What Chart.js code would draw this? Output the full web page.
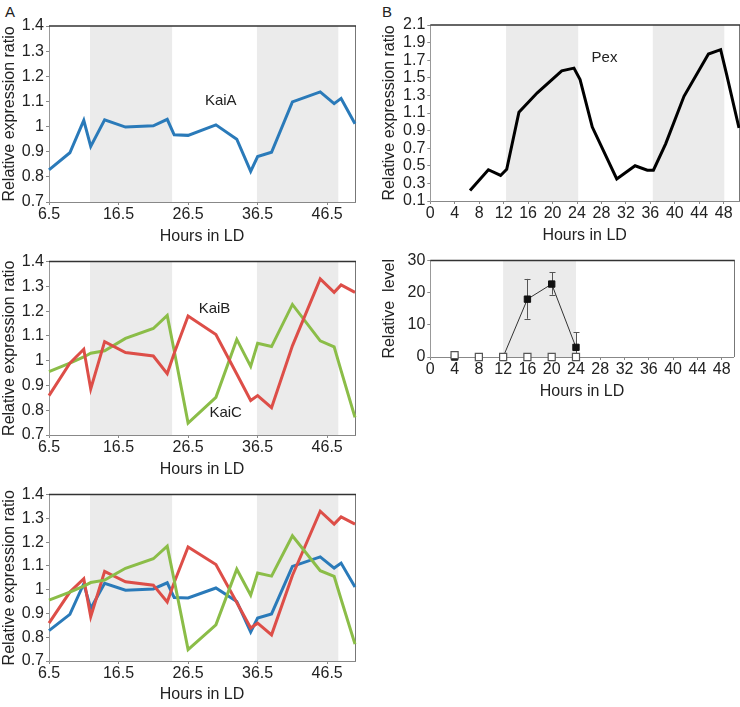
<!DOCTYPE html>
<html>
<head>
<meta charset="utf-8">
<script src="https://cdn.jsdelivr.net/npm/chart.js@4.4.1/dist/chart.umd.min.js"></script>
<style>
  body { margin: 0; background: #fff; width: 740px; height: 707px; position: relative; overflow: hidden;
         font-family: "Liberation Sans", Arial, sans-serif; }
  canvas { position: absolute; }
  .tag { position: absolute; font-size: 15px; color: #222; line-height: 1; }
</style>
</head>
<body>
<div class="tag" style="left:5px;top:4px">A</div>
<div class="tag" style="left:382px;top:4px">B</div>
<canvas id="kaiA" width="365" height="250" style="left:0;top:0"></canvas>
<canvas id="kaiBC" width="365" height="233" style="left:0;top:250px"></canvas>
<canvas id="kaiAll" width="365" height="224" style="left:0;top:483px"></canvas>
<canvas id="pex" width="360" height="249" style="left:380px;top:0"></canvas>
<canvas id="level" width="360" height="156" style="left:380px;top:249px"></canvas>
<script>
// sampling times (hours in LD)
const hours = [6.5, 9.5, 11.5, 12.5, 14.5, 17.5, 21.5, 23.5, 24.5, 26.5,
               30.5, 33.5, 35.5, 36.5, 38.5, 41.5, 45.5, 47.5, 48.5, 50.5];
const kaiA = [0.828, 0.896, 1.025, 0.921, 1.027, 0.998, 1.003, 1.029, 0.967, 0.965,
              1.007, 0.95, 0.822, 0.881, 0.898, 1.098, 1.138, 1.091, 1.112, 1.011];
const kaiB = [0.859, 0.99, 1.046, 0.886, 1.077, 1.033, 1.019, 0.948, 1.03, 1.18,
              1.106, 0.946, 0.839, 0.859, 0.81, 1.06, 1.33, 1.276, 1.306, 1.276];
const kaiC = [0.956, 0.99, 1.015, 1.03, 1.04, 1.09, 1.13, 1.183, 1.04, 0.748,
              0.852, 1.086, 0.977, 1.07, 1.057, 1.227, 1.08, 1.056, 0.96, 0.771];
const pex = [0.22, 0.455, 0.39, 0.46, 1.11, 1.33, 1.58, 1.61, 1.48, 0.94,
             0.35, 0.50, 0.45, 0.45, 0.75, 1.29, 1.77, 1.82, 1.53, 0.93];

// protein level panel
const levelHours = [4, 8, 12, 16, 20, 24];
const levelFilled = [0, null, 0, 18, 22.7, 3];
const levelFilledLow = [null, null, null, 11.9, 19.4, 0];
const levelFilledHigh = [null, null, null, 24.3, 26.3, 7.7];
const levelOpen = [0.6, 0, 0, 0, 0, 0];

// dark periods
const darkPhases = [[12.4, 24.2], [36.4, 48.1]];
const darkPhasesLevel = [[12, 24]];

// tick labels
const xTicksA = [6.5, 16.5, 26.5, 36.5, 46.5];
const xTicksB = [0, 4, 8, 12, 16, 20, 24, 28, 32, 36, 40, 44, 48];
const yTicksKai = [0.7, 0.8, 0.9, 1, 1.1, 1.2, 1.3, 1.4];
const yTicksPex = [0.1, 0.3, 0.5, 0.7, 0.9, 1.1, 1.3, 1.5, 1.7, 1.9, 2.1];
const yTicksLevel = [0, 10, 20, 30];

const BLUE = "#2a7ab9", RED = "#dd4e48", GREEN = "#8bbd48";
const FONT = "'Liberation Sans', Arial, sans-serif";
const TEXT = "#222";

const shadePlugin = {
  id: "shade",
  beforeDraw(chart, args, opts) {
    const { ctx, chartArea: a, scales: { x } } = chart;
    ctx.save();
    ctx.fillStyle = "#ebebeb";
    (opts.ranges || []).forEach(([s, e]) => {
      const x0 = Math.max(a.left, x.getPixelForValue(s));
      const x1 = Math.min(a.right, x.getPixelForValue(e));
      ctx.fillRect(x0, a.top, x1 - x0, a.bottom - a.top);
    });
    ctx.restore();
  }
};

const framePlugin = {
  id: "frame",
  beforeDatasetsDraw(chart) {
    const { ctx, chartArea: a } = chart;
    ctx.save();
    ctx.lineWidth = 1;
    ctx.strokeStyle = "#777";
    ctx.beginPath();
    ctx.moveTo(Math.round(a.right) + 0.5, a.top);
    ctx.lineTo(Math.round(a.right) + 0.5, a.bottom);
    ctx.stroke();
    ctx.lineWidth = 1.5;
    ctx.strokeStyle = "#333";
    ctx.beginPath();
    ctx.moveTo(a.left, a.top);
    ctx.lineTo(a.right + 1, a.top);
    ctx.stroke();
    ctx.restore();
  }
};

const errorBarPlugin = {
  id: "errorBars",
  beforeDatasetsDraw(chart) {
    const { ctx, scales: { x, y } } = chart;
    ctx.save();
    ctx.strokeStyle = "#555";
    ctx.lineWidth = 1;
    chart.data.datasets.forEach((ds) => {
      if (!ds.errLow) return;
      ds.data.forEach((p, i) => {
        if (ds.errLow[i] == null) return;
        const px = Math.round(x.getPixelForValue(p.x)) + 0.5;
        const lo = y.getPixelForValue(ds.errLow[i]);
        const hi = y.getPixelForValue(ds.errHigh[i]);
        ctx.beginPath();
        ctx.moveTo(px, lo); ctx.lineTo(px, hi);
        ctx.moveTo(px - 3, Math.round(hi) + 0.5); ctx.lineTo(px + 3, Math.round(hi) + 0.5);
        ctx.moveTo(px - 3, Math.round(lo) + 0.5); ctx.lineTo(px + 3, Math.round(lo) + 0.5);
        ctx.stroke();
      });
    });
    ctx.restore();
  }
};

const notePlugin = {
  id: "notes",
  afterDatasetsDraw(chart, args, opts) {
    const { ctx, scales: { x, y } } = chart;
    ctx.save();
    ctx.font = "15px " + FONT;
    ctx.fillStyle = TEXT;
    ctx.textAlign = "center";
    ctx.textBaseline = "middle";
    (opts.items || []).forEach((n) => {
      ctx.fillText(n.text, x.getPixelForValue(n.x), y.getPixelForValue(n.y));
    });
    ctx.restore();
  }
};

function pts(xs, ys) {
  return xs.map((v, i) => ({ x: v, y: ys[i] }));
}

function axes(cfg) {
  const tickGrid = { display: true, drawOnChartArea: false, tickLength: 3, color: "#888" };
  return {
    x: {
      type: "linear",
      min: cfg.xMin, max: cfg.xMax,
      afterBuildTicks: (s) => { s.ticks = cfg.xTicks.map((v) => ({ value: v })); },
      afterFit: (s) => { s.height = cfg.xHeight; },
      grid: tickGrid,
      border: { display: true, color: "#888" },
      ticks: { color: TEXT, font: { family: FONT, size: 16 }, padding: 0, maxRotation: 0, autoSkip: false,
               callback: (v) => String(v) },
      title: { display: true, text: "Hours in LD", color: TEXT, font: { family: FONT, size: 16 },
               padding: { top: 0, bottom: cfg.titleBottom } }
    },
    y: {
      min: cfg.yTicks[0], max: cfg.yTicks[cfg.yTicks.length - 1],
      afterBuildTicks: (s) => { s.ticks = cfg.yTicks.map((v) => ({ value: v })); },
      afterFit: (s) => { s.width = cfg.yWidth; },
      grid: tickGrid,
      border: { display: true, color: "#999" },
      ticks: { color: TEXT, font: { family: FONT, size: 16 }, padding: 2, autoSkip: false,
               callback: (v) => String(+v.toFixed(1)) },
      title: { display: true, text: cfg.yTitle, color: TEXT, font: { family: FONT, size: 16 },
               padding: { top: 0, bottom: 0 } }
    }
  };
}

function lineSet(data, color, width) {
  return { data, borderColor: color, borderWidth: width, pointRadius: 0, tension: 0, fill: false, clip: false };
}

function makeChart(id, datasets, cfg, notes) {
  new Chart(document.getElementById(id), {
    type: "line",
    data: { datasets },
    options: {
      responsive: false,
      animation: false,
      devicePixelRatio: 1,
      layout: { padding: cfg.pad },
      plugins: {
        legend: { display: false },
        tooltip: { enabled: false },
        notes: { items: notes },
        shade: { ranges: cfg.shade || darkPhases }
      },
      scales: axes(cfg)
    },
    plugins: [shadePlugin, framePlugin, errorBarPlugin, notePlugin]
  });
}

const kaiCfg = (pad, xHeight, titleBottom) => ({
  pad, xHeight, titleBottom, xMin: 6.5, xMax: 50.5, xTicks: xTicksA,
  yTicks: yTicksKai, yWidth: 49, yTitle: "Relative expression ratio"
});

makeChart("kaiA", [lineSet(pts(hours, kaiA), BLUE, 3)],
  kaiCfg({ top: 26, right: 10, left: 0, bottom: 0 }, 48, 4),
  [{ text: "KaiA", x: 31.2, y: 1.104 }]);

makeChart("kaiBC", [lineSet(pts(hours, kaiB), RED, 3), lineSet(pts(hours, kaiC), GREEN, 3)],
  kaiCfg({ top: 10, right: 10, left: 0, bottom: 0 }, 48, 4),
  [{ text: "KaiB", x: 30.3, y: 1.21 }, { text: "KaiC", x: 31.9, y: 0.79 }]);

makeChart("kaiAll", [lineSet(pts(hours, kaiC), GREEN, 3), lineSet(pts(hours, kaiB), RED, 3),
                     lineSet(pts(hours, kaiA), BLUE, 3)],
  kaiCfg({ top: 3, right: 10, left: 0, bottom: 0 }, 46, 3), []);

makeChart("pex", [lineSet(pts(hours, pex), "#000", 3)],
  { pad: { top: 25, right: 1, left: 0, bottom: 0 }, xHeight: 48, titleBottom: 4,
    xMin: 0, xMax: 50.5, xTicks: xTicksB, yTicks: yTicksPex, yWidth: 50.3,
    yTitle: "Relative expression ratio" },
  [{ text: "Pex", x: 28.5, y: 1.73 }]);

makeChart("level", [
    { data: pts(levelHours, levelOpen), showLine: false, pointStyle: "rect", pointRadius: 5,
      pointBackgroundColor: "#fff", pointBorderColor: "#555", pointBorderWidth: 1.2, clip: false },
    { data: pts(levelHours, levelFilled), errLow: levelFilledLow, errHigh: levelFilledHigh,
      borderColor: "#333", borderWidth: 1, pointStyle: "rect", pointRadius: 4.5,
      pointBackgroundColor: "#111", pointBorderColor: "#111", pointBorderWidth: 1, clip: false }
  ],
  { pad: { top: 7, right: 4, left: 0, bottom: 0 }, xHeight: 48, titleBottom: 4,
    xMin: 0, xMax: 50, xTicks: xTicksB, yTicks: yTicksLevel, yWidth: 50.3,
    yTitle: "Relative  level", shade: darkPhasesLevel },
  []);
</script>
</body>
</html>
